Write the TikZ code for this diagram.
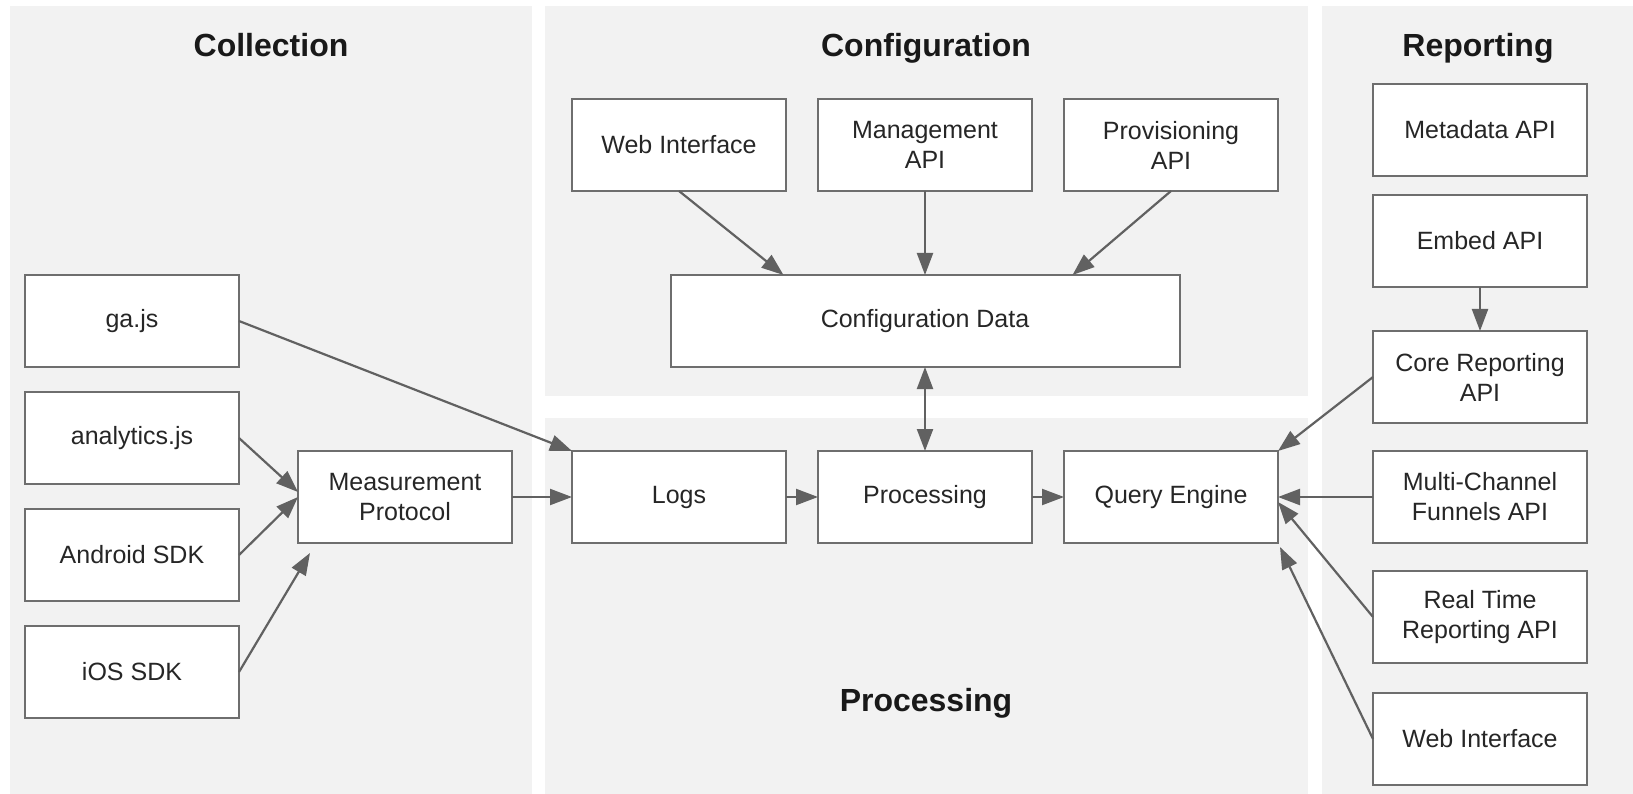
\documentclass[tikz,border=0pt]{standalone}
\usepackage{fontspec}
\setmainfont{Liberation Sans}
\usepackage{tikz}
\usetikzlibrary{arrows.meta}
\usetikzlibrary{positioning}
\definecolor{PanelBg}{HTML}{F2F2F2}
\definecolor{BoxLine}{HTML}{6E6E6E}
\definecolor{ArrowGray}{HTML}{616161}
\definecolor{LabelText}{HTML}{262626}

\begin{document}
\begin{tikzpicture}[x=1pt, y=-1pt,
    font=\fontsize{25}{30}\selectfont,
    node distance=25pt and 32pt,
    >={Triangle[length=22pt,width=16pt]},
    apibox/.style={shape=rectangle,
      draw=BoxLine,
      fill=white,
      line width=2pt,
      minimum width=214pt,
      minimum height=92pt,
      inner sep=0pt,
      outer sep=0pt,
      align=center,
      text=LabelText},
    paneltitle/.style={font=\fontsize{32}{38}\selectfont\bfseries,
      text=black!90,
      text height=24pt,
      text depth=7pt},
    flow/.style={draw=ArrowGray, line width=2.2pt}]

    % panels
    \fill[white] (0,0) rectangle (1633,794);
    \fill[PanelBg] (10,6) rectangle (532,794);
    \fill[PanelBg] (545,6) rectangle (1308,396);
    \fill[PanelBg] (545,418) rectangle (1308,794);
    \fill[PanelBg] (1322,6) rectangle (1633,794);

    \node[name=tcoll, paneltitle] at (271,48) {Collection};
    \node[name=tconf, paneltitle] at (926,48) {Configuration};
    \node[name=trep, paneltitle] at (1478,48) {Reporting};
    \node[name=tproc, paneltitle] at (926,703) {Processing};

    % collection
    \node[name=gajs, apibox] at (132,321) {ga.js};
    \node[name=anajs, apibox, below=of gajs] {analytics.js};
    \node[name=android, apibox, below=of anajs] {Android SDK};
    \node[name=ios, apibox, below=of android] {iOS SDK};
    \node[name=measure, apibox] at (405,497) {Measurement\\Protocol};

    % processing
    \node[name=logs, apibox, right=60pt of measure] {Logs};
    \node[name=proc, apibox, right=of logs] {Processing};
    \node[name=query, apibox, right=of proc] {Query Engine};

    % configuration
    \node[name=confdata,
      apibox,
      minimum width=509pt,
      above=84pt of proc] {Configuration Data};
    \node[name=mgmt, apibox, above=84pt of confdata] {Management\\API};
    \node[name=webconf, apibox, left=of mgmt] {Web Interface};
    \node[name=prov, apibox, right=of mgmt] {Provisioning\\API};

    % reporting
    \node[name=mcf, apibox, right=95pt of query] {Multi-Channel\\Funnels API};
    \node[name=core, apibox, above=28pt of mcf] {Core Reporting\\API};
    \node[name=embed, apibox, above=44pt of core] {Embed API};
    \node[name=meta, apibox, above=19pt of embed] {Metadata API};
    \node[name=realtime, apibox, below=28pt of mcf] {Real Time\\Reporting API};
    \node[name=webrep, apibox, below=30pt of realtime] {Web Interface};

    \path (gajs.east) edge[flow, ->] (logs.north west);
    \path (anajs.east) edge[flow, ->] ([yshift=5pt]measure.west);
    \path (android.east) edge[flow, ->] (measure.west);
    \path (ios.east) edge[flow, ->] ([xshift=12pt,yshift=-10pt]measure.south west);
    \path (measure) edge[flow, ->] (logs);
    \path (logs) edge[flow, ->] (proc);
    \path (proc) edge[flow, ->] (query);
    \path (confdata) edge[flow, <->] (proc);
    \path (webconf.south) edge[flow, ->] ([xshift=113pt]confdata.north west);
    \path (mgmt) edge[flow, ->] (confdata);
    \path (prov.south) edge[flow, ->] ([xshift=-107pt]confdata.north east);
    \path (embed) edge[flow, ->] (core);
    \path (core.west) edge[flow, ->] (query.north east);
    \path (mcf) edge[flow, ->] (query);
    \path (realtime.west) edge[flow, ->] ([yshift=-5pt]query.east);
    \path (webrep.west) edge[flow, ->] ([xshift=2pt,yshift=-4pt]query.south east);

    \useasboundingbox (0,0) rectangle (1633,794);
  \end{tikzpicture}
\end{document}
